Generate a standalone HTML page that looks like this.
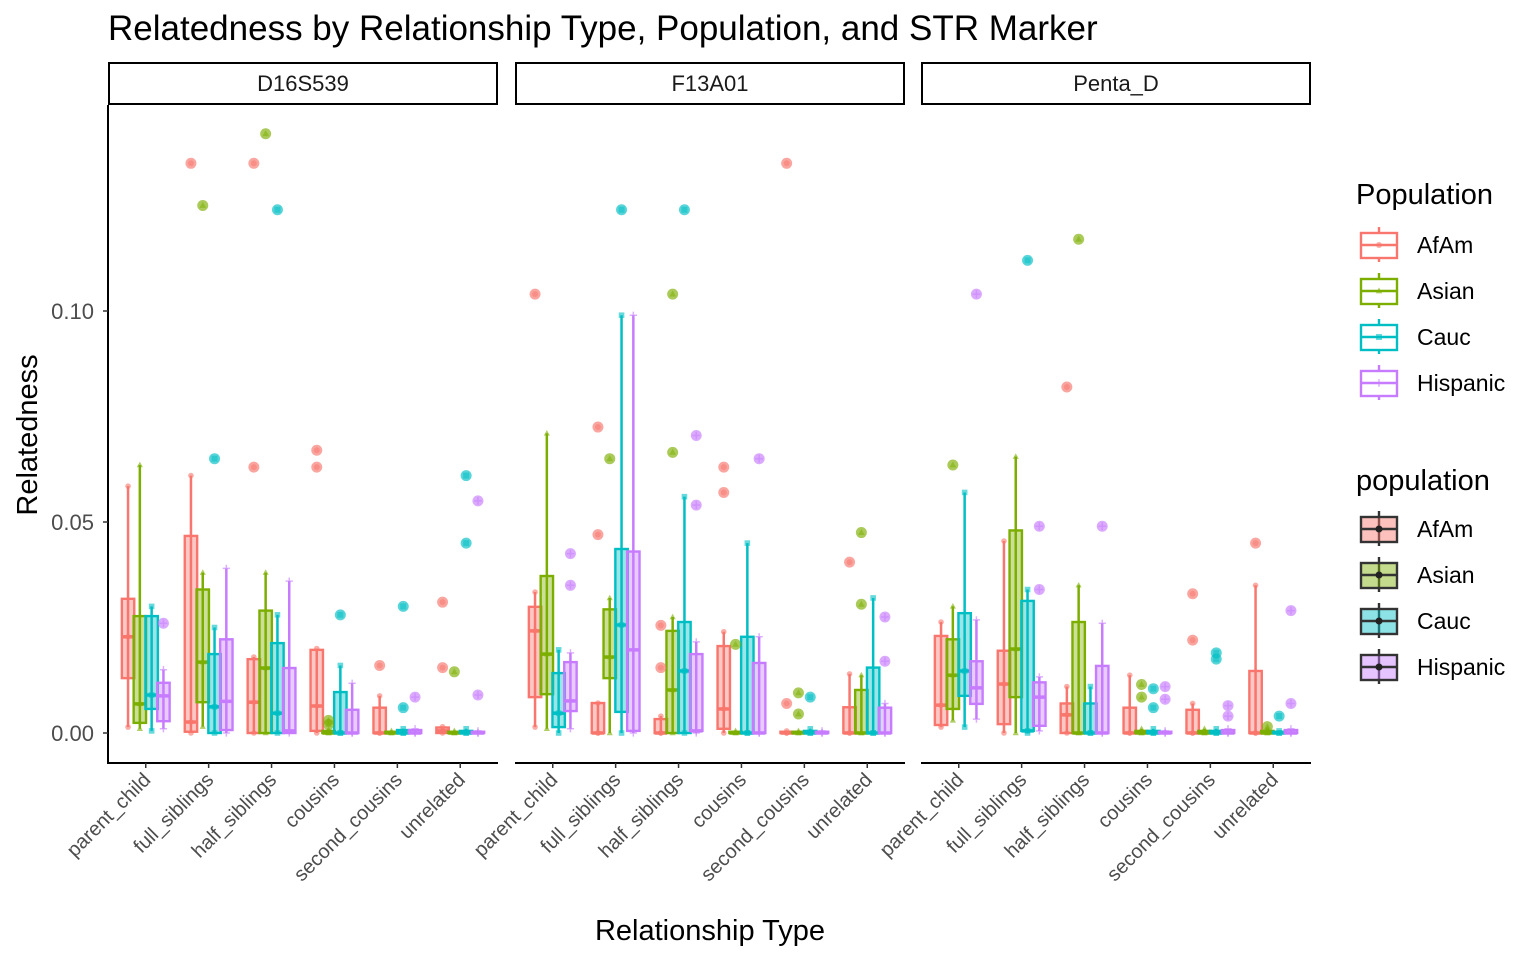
<!DOCTYPE html>
<html><head><meta charset="utf-8">
<style>
body{margin:0;background:#fff;}
svg text{font-family:"Liberation Sans",Arial,sans-serif;}
</style></head>
<body>
<svg id="chart" width="1536" height="960" xmlns="http://www.w3.org/2000/svg">
<text x="108" y="40" font-size="35" fill="#000">Relatedness by Relationship Type, Population, and STR Marker</text>
<text x="710" y="940" font-size="29" text-anchor="middle" fill="#000">Relationship Type</text>
<text transform="translate(37,435) rotate(-90)" font-size="29" text-anchor="middle" fill="#000">Relatedness</text>
<g id="panels"></g>
<g id="legend"></g>
</svg>
<script>
const panelNames = ['D16S539','F13A01','Penta_D'];
const categories = ['parent_child','full_siblings','half_siblings','cousins','second_cousins','unrelated'];
const populations = ['AfAm','Asian','Cauc','Hispanic'];
const yTicks = [0, 0.05, 0.10];
const yTickLabels = ['0.00','0.05','0.10'];
// stats: [lowerWhisker, q1, median, q3, upperWhisker] per category, per population
const statsD16 = [
 [[0.0014,0.013,0.0228,0.0318,0.0585],[0.001,0.0024,0.0069,0.0277,0.0635],[0.0005,0.0057,0.009,0.0277,0.030],[0.001,0.0028,0.0088,0.0119,0.015]],
 [[0,0.0003,0.0026,0.0467,0.061],[0.0015,0.0073,0.0168,0.034,0.038],[0,0,0.0062,0.0187,0.025],[0,0.0007,0.0075,0.0222,0.039]],
 [[0,0,0.0073,0.0175,0.018],[0,0,0.0154,0.029,0.038],[0,0,0.0047,0.0213,0.028],[0,0,0.0005,0.0154,0.036]],
 [[0,0.0005,0.0064,0.0197,0.020],[0,0,0,0.0005,0.0008],[0,0,0,0.0097,0.016],[0,0,0,0.0055,0.0118]],
 [[0,0,0,0.006,0.0088],[0,0,0,0.0003,0.0005],[0,0,0,0.0007,0.001],[0,0,0,0.0007,0.001]],
 [[0,0,0.0005,0.0013,0.0015],[0,0,0,0.0003,0.0005],[0,0,0,0.0005,0.001],[0,0,0,0.0003,0.0005]]
];
const statsF13 = [
 [[0.0014,0.0085,0.0242,0.0299,0.0334],[0.001,0.0092,0.0187,0.0372,0.071],[0,0.0014,0.0047,0.0142,0.0197],[0.001,0.0052,0.0076,0.0168,0.019]],
 [[0,0,0,0.0071,0.0071],[0,0.013,0.018,0.0293,0.032],[0,0.005,0.0256,0.0436,0.099],[0,0.0005,0.0197,0.043,0.099]],
 [[0,0,0,0.0033,0.004],[0,0,0.0102,0.0242,0.0275],[0,0,0.0147,0.0263,0.056],[0,0.0005,0.0005,0.0187,0.0216]],
 [[0,0.001,0.0057,0.0206,0.024],[0,0,0,0.0003,0.0005],[0,0,0,0.0228,0.045],[0,0,0,0.0166,0.0228]],
 [[0,0,0,0.0003,0.0005],[0,0,0,0.0003,0.0005],[0,0,0,0.0005,0.001],[0,0,0,0.0003,0.0005]],
 [[0,0,0,0.0061,0.014],[0,0,0,0.0102,0.0137],[0,0,0,0.0155,0.032],[0,0,0,0.006,0.007]]
];
const statsPenta = [
 [[0.0014,0.0019,0.0066,0.023,0.0263],[0.003,0.0057,0.0137,0.0222,0.030],[0.0014,0.0088,0.0147,0.0284,0.057],[0.0033,0.0069,0.0107,0.017,0.0268]],
 [[0,0.0021,0.0116,0.0195,0.0455],[0,0.0085,0.0199,0.048,0.0655],[0,0.0005,0.0005,0.0313,0.034],[0.0005,0.0017,0.0085,0.012,0.0133]],
 [[0,0,0.0043,0.007,0.011],[0,0,0,0.0263,0.035],[0,0,0,0.007,0.011],[0,0,0,0.0159,0.026]],
 [[0,0,0,0.006,0.0137],[0,0,0,0.0005,0.001],[0,0,0,0.0005,0.001],[0,0,0,0.0003,0.0005]],
 [[0,0,0,0.0055,0.007],[0,0,0,0.0005,0.001],[0,0,0,0.0005,0.001],[0,0,0,0.0007,0.001]],
 [[0,0,0,0.0147,0.035],[0,0,0,0.0005,0.001],[0,0,0,0.0003,0.0005],[0,0,0,0.0007,0.001]]
];
// outliers: [categoryIndex, populationIndex, value]
const outD16 = [[1,0,0.135],[1,1,0.125],[1,2,0.065],[2,0,0.135],[2,0,0.063],[2,1,0.142],[2,2,0.124],[0,3,0.026],
 [3,0,0.067],[3,0,0.063],[3,1,0.003],[3,1,0.002],[3,2,0.028],[4,0,0.016],[4,2,0.030],[4,2,0.006],[4,3,0.0085],
 [5,0,0.031],[5,0,0.0155],[5,1,0.0145],[5,2,0.061],[5,2,0.045],[5,3,0.055],[5,3,0.009]];
const outF13 = [[0,0,0.104],[0,3,0.0425],[0,3,0.035],[1,0,0.0725],[1,0,0.047],[1,1,0.065],[1,2,0.124],
 [2,0,0.0255],[2,0,0.0155],[2,1,0.0665],[2,1,0.104],[2,2,0.124],[2,3,0.054],[2,3,0.0705],
 [3,0,0.063],[3,0,0.057],[3,1,0.021],[3,3,0.065],[4,0,0.135],[4,0,0.007],[4,1,0.0095],[4,1,0.0045],[4,2,0.0085],
 [5,0,0.0405],[5,1,0.0475],[5,1,0.0305],[5,3,0.0275],[5,3,0.017]];
const outPenta = [[0,1,0.0635],[0,3,0.104],[1,2,0.112],[1,3,0.034],[1,3,0.049],[2,0,0.082],[2,1,0.117],[2,3,0.049],
 [3,1,0.0115],[3,1,0.0085],[3,2,0.0105],[3,2,0.006],[3,3,0.011],[3,3,0.008],
 [4,0,0.033],[4,0,0.022],[4,2,0.019],[4,2,0.0175],[4,3,0.0065],[4,3,0.004],
 [5,0,0.045],[5,1,0.0015],[5,2,0.004],[5,3,0.029],[5,3,0.007]];

const colors = ['#F8766D','#7CAE00','#00BFC4','#C77CFF'];
const allStats = [statsD16, statsF13, statsPenta];
const allOut = [outD16, outF13, outPenta];
const panelX0 = [108, 515, 921];
const panelW = 390;
const NS = 'http://www.w3.org/2000/svg';
function y(v){ return 733 - v * 4220; }
function xCat(p, c){ return panelX0[p] + (c + 0.6) * (panelW / 6.2); }
function xPop(p, c, k){ return xCat(p, c) + (k - 1.5) * 0.1875 * (panelW / 6.2); }
function el(tag, attrs, parent){ const e = document.createElementNS(NS, tag); for (const a in attrs) e.setAttribute(a, attrs[a]); parent.appendChild(e); return e; }
function shape(k, cx, cy, s, parent, op){
  let e;
  if (k === 0) e = el('circle', {cx:cx, cy:cy, r:s, fill:colors[k], opacity:op}, parent);
  else if (k === 1) e = el('polygon', {points:`${cx},${cy-s*1.2} ${cx-s*1.1},${cy+s*0.8} ${cx+s*1.1},${cy+s*0.8}`, fill:colors[k], opacity:op}, parent);
  else if (k === 2) e = el('rect', {x:cx-s, y:cy-s, width:2*s, height:2*s, fill:colors[k], opacity:op}, parent);
  else e = el('path', {d:`M${cx-s*1.3},${cy}H${cx+s*1.3}M${cx},${cy-s*1.3}V${cy+s*1.3}`, stroke:colors[k], 'stroke-width':1.5, opacity:op}, parent);
  return e;
}
const root = document.getElementById('panels');
for (let p = 0; p < 3; p++) {
  const g = el('g', {}, root);
  
  
  const strip = el('rect', {x:panelX0[p]+1, y:63, width:panelW-2, height:41, fill:'#fff', stroke:'#000', 'stroke-width':2}, g);
  
  
  const st = el('text', {x:panelX0[p]+panelW/2, y:91, 'font-size':22, 'text-anchor':'middle', fill:'#1a1a1a'}, g);
  st.textContent = panelNames[p];
  
  
  const xa = el('line', {x1:panelX0[p], x2:panelX0[p]+panelW, y1:763, y2:763, stroke:'#000', 'stroke-width':2}, g);
  
  
  if (p === 0) {
    const ya = el('line', {x1:108, x2:108, y1:105, y2:764, stroke:'#000', 'stroke-width':2}, g);
    
    
    yTicks.forEach((t, i) => {
      el('line', {x1:103, x2:108, y1:y(t), y2:y(t), stroke:'#333', 'stroke-width':1.5}, g);
      const tl = el('text', {x:94, y:y(t)+8, 'font-size':22, 'text-anchor':'end', fill:'#4d4d4d'}, g);
      tl.textContent = yTickLabels[i];
      
      
    });
  }
  categories.forEach((cat, c) => {
    const cx = xCat(p, c);
    el('line', {x1:cx, x2:cx, y1:763, y2:768, stroke:'#333', 'stroke-width':1.5}, g);
    const tl = el('text', {transform:`translate(${cx+6},${781}) rotate(-45)`, 'font-size':20, 'text-anchor':'end', fill:'#4d4d4d'}, g);
    tl.textContent = cat;
    
    
    for (let k = 0; k < 4; k++) {
      const s = allStats[p][c][k];
      const bx = xPop(p, c, k), hw = 6.2;
      const bg = el('g', {}, g);
      
      
      el('line', {x1:bx, x2:bx, y1:y(s[4]), y2:y(s[0]), stroke:colors[k], 'stroke-width':2.5}, bg);
      el('rect', {x:bx-hw, y:y(s[3]), width:2*hw, height:Math.max(y(s[1])-y(s[3]),0.5), fill:colors[k], 'fill-opacity':0.4, stroke:colors[k], 'stroke-width':2.4}, bg);
      el('line', {x1:bx-hw, x2:bx+hw, y1:y(s[2]), y2:y(s[2]), stroke:colors[k], 'stroke-width':3.5}, bg);
      shape(k, bx, y(s[2]), 2.8, bg, 0.6);
      shape(k, bx, y(s[0]), 2.8, bg, 0.6);
      shape(k, bx, y(s[4]), 2.8, bg, 0.6);
    }
  });
  allOut[p].forEach(o => {
    const bx = xPop(p, o[0], o[1]);
    const cy = y(o[2]);
    const og = el('g', {}, g);
    
    
    el('circle', {cx:bx, cy:cy, r:5.5, fill:colors[o[1]], opacity:0.65}, og);
    shape(o[1], bx, cy, 3, og, 0.5);
  });
}
// legends
const lg = document.getElementById('legend');
const t1 = el('text', {x:1356, y:204, 'font-size':29, fill:'#000'}, lg);
t1.textContent = 'Population';


const t2 = el('text', {x:1356, y:490, 'font-size':29, fill:'#000'}, lg);
t2.textContent = 'population';


populations.forEach((pop, k) => {
  const cy = 245 + k * 46;
  const e = el('g', {}, lg);
  
  
  el('line', {x1:1379, x2:1379, y1:cy-18, y2:cy+17, stroke:colors[k], 'stroke-width':2.4}, e);
  el('rect', {x:1361, y:cy-12, width:36, height:25, fill:'#fff', stroke:colors[k], 'stroke-width':2.4}, e);
  el('line', {x1:1361, x2:1397, y1:cy, y2:cy, stroke:colors[k], 'stroke-width':2.4}, e);
  shape(k, 1379, cy, 3, e, 0.6);
  const tx = el('text', {x:1417, y:cy+8, 'font-size':23, fill:'#000'}, e);
  tx.textContent = pop;
  const cy2 = 529 + k * 46;
  const e2 = el('g', {}, lg);
  
  
  el('line', {x1:1379, x2:1379, y1:cy2-18, y2:cy2+17, stroke:'#333', 'stroke-width':2.4}, e2);
  el('rect', {x:1361, y:cy2-12, width:36, height:25, fill:colors[k], 'fill-opacity':0.45, stroke:'#333', 'stroke-width':2.4}, e2);
  el('line', {x1:1361, x2:1397, y1:cy2, y2:cy2, stroke:'#333', 'stroke-width':2.4}, e2);
  el('circle', {cx:1379, cy:cy2, r:3.5, fill:'#222'}, e2);
  const tx2 = el('text', {x:1417, y:cy2+8, 'font-size':23, fill:'#000'}, e2);
  tx2.textContent = pop;
});
</script>
</body></html>
